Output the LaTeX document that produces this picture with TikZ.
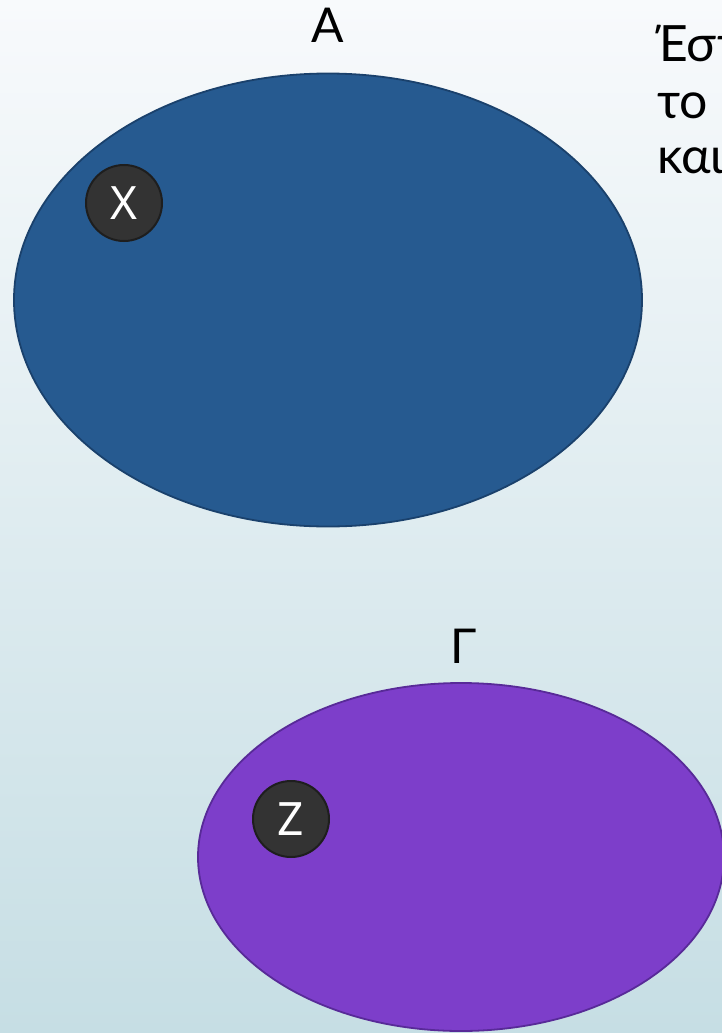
\documentclass[tikz,border=0pt]{standalone}
\usepackage{fontspec}
\usetikzlibrary{shapes.geometric}
\setmainfont{Lato}
\newfontfamily\labelfont{Noto Sans}
\begin{document}
\begin{tikzpicture}[x=1pt,y=-1pt,
  setA/.style={draw=blueedge,fill=bluefill,line width=1.8pt},
  setG/.style={draw=purpleedge,fill=purplefill,line width=1.8pt},
  elem/.style={circle,draw=elemedge,fill=elemfill,line width=2pt,minimum size=76pt,inner sep=0pt,text=white,font=\labelfont\fontsize{46}{48}\selectfont},
  setlabel/.style={font=\fontsize{48}{50}\selectfont,text=black,anchor=base},
  body/.style={font=\fontsize{50}{56}\selectfont,text=black,anchor=base west,inner sep=0pt}]
\definecolor{bluefill}{HTML}{265A90}
\definecolor{blueedge}{HTML}{1A416C}
\definecolor{purplefill}{HTML}{7D3ECA}
\definecolor{purpleedge}{HTML}{582A98}
\definecolor{elemfill}{HTML}{333333}
\definecolor{elemedge}{HTML}{1E1E1E}
\definecolor{bgtop}{HTML}{F8FAFC}
\definecolor{bgbot}{HTML}{C6DEE4}
\useasboundingbox (0,0) rectangle (722,1033);
\clip (0,0) rectangle (722,1033);
\shade[top color=bgtop,bottom color=bgbot] (0,0) rectangle (722,1033);
\node[setA,ellipse,minimum width=628pt,minimum height=453pt,inner sep=0pt] (A) at (328,300) {};
\node[setG,ellipse,minimum width=526pt,minimum height=348pt,inner sep=0pt] (G) at (461,857) {};
\node[elem] (X) at (124,203) {X};
\node[elem] (Z) at (291,819) {Z};
\node[setlabel] (lA) at (328,43) {A};
\node[setlabel] (lG) at (464,663) {Γ};
\node[body] (t1) at (655,62) {Έστω};
\node[body] (t2) at (657,118) {το};
\node[body] (t3) at (657,173) {και};
\end{tikzpicture}
\end{document}
